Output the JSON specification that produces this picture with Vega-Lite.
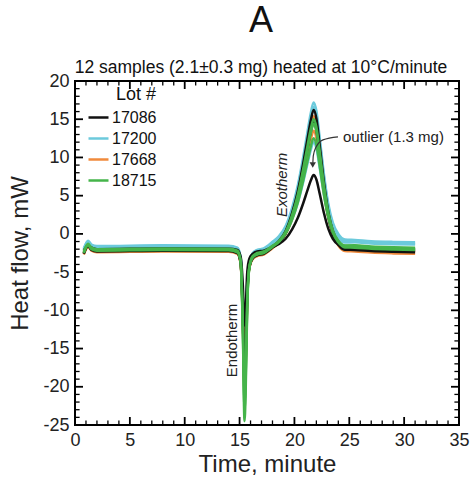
{
"$schema":"https://vega.github.io/schema/vega-lite/v6.json",
"width":384,"height":344,
"autosize":"none",
"padding":{"left":75,"top":81,"right":12,"bottom":52},
"background":"white",
"config":{"view":{"stroke":"black","strokeWidth":2},"font":"Liberation Sans","scale":{"continuousPadding":0}},
"title":{"text":"A","subtitle":"12 samples (2.1±0.3 mg) heated at 10°C/minute","fontSize":36,"fontWeight":"normal","color":"#111","subtitleFontSize":17.5,"subtitleColor":"#111","anchor":"middle","dx":-6,"offset":-5,"subtitlePadding":19},
"datasets":{
"xt":[{"t":5,"k":"major"},{"t":10,"k":"major"},{"t":15,"k":"major"},{"t":20,"k":"major"},{"t":25,"k":"major"},{"t":30,"k":"major"},{"t":1,"k":"minor"},{"t":2,"k":"minor"},{"t":3,"k":"minor"},{"t":4,"k":"minor"},{"t":6,"k":"minor"},{"t":7,"k":"minor"},{"t":8,"k":"minor"},{"t":9,"k":"minor"},{"t":11,"k":"minor"},{"t":12,"k":"minor"},{"t":13,"k":"minor"},{"t":14,"k":"minor"},{"t":16,"k":"minor"},{"t":17,"k":"minor"},{"t":18,"k":"minor"},{"t":19,"k":"minor"},{"t":21,"k":"minor"},{"t":22,"k":"minor"},{"t":23,"k":"minor"},{"t":24,"k":"minor"},{"t":26,"k":"minor"},{"t":27,"k":"minor"},{"t":28,"k":"minor"},{"t":29,"k":"minor"},{"t":31,"k":"minor"},{"t":32,"k":"minor"},{"t":33,"k":"minor"},{"t":34,"k":"minor"}],
"yt":[{"v":-20,"k":"major"},{"v":-15,"k":"major"},{"v":-10,"k":"major"},{"v":-5,"k":"major"},{"v":0,"k":"major"},{"v":5,"k":"major"},{"v":10,"k":"major"},{"v":15,"k":"major"},{"v":-24,"k":"minor"},{"v":-23,"k":"minor"},{"v":-22,"k":"minor"},{"v":-21,"k":"minor"},{"v":-19,"k":"minor"},{"v":-18,"k":"minor"},{"v":-17,"k":"minor"},{"v":-16,"k":"minor"},{"v":-14,"k":"minor"},{"v":-13,"k":"minor"},{"v":-12,"k":"minor"},{"v":-11,"k":"minor"},{"v":-9,"k":"minor"},{"v":-8,"k":"minor"},{"v":-7,"k":"minor"},{"v":-6,"k":"minor"},{"v":-4,"k":"minor"},{"v":-3,"k":"minor"},{"v":-2,"k":"minor"},{"v":-1,"k":"minor"},{"v":1,"k":"minor"},{"v":2,"k":"minor"},{"v":3,"k":"minor"},{"v":4,"k":"minor"},{"v":6,"k":"minor"},{"v":7,"k":"minor"},{"v":8,"k":"minor"},{"v":9,"k":"minor"},{"v":11,"k":"minor"},{"v":12,"k":"minor"},{"v":13,"k":"minor"},{"v":14,"k":"minor"},{"v":16,"k":"minor"},{"v":17,"k":"minor"},{"v":18,"k":"minor"},{"v":19,"k":"minor"}],
"dsc":[
{"lot":"17200","s":4,"t":0.8,"v":-1.9},{"lot":"17200","s":4,"t":1.2,"v":-0.9},{"lot":"17200","s":4,"t":1.5,"v":-1.4},{"lot":"17200","s":4,"t":2,"v":-1.6},{"lot":"17200","s":4,"t":8,"v":-1.5},{"lot":"17200","s":4,"t":14,"v":-1.55},{"lot":"17200","s":4,"t":14.8,"v":-1.8},{"lot":"17200","s":4,"t":15.1,"v":-3.1},{"lot":"17200","s":4,"t":15.3,"v":-9},{"lot":"17200","s":4,"t":15.45,"v":-16},{"lot":"17200","s":4,"t":15.55,"v":-13.6},{"lot":"17200","s":4,"t":15.7,"v":-6.5},{"lot":"17200","s":4,"t":15.9,"v":-3.6},{"lot":"17200","s":4,"t":16.2,"v":-2.5},{"lot":"17200","s":4,"t":16.6,"v":-2.1},{"lot":"17200","s":4,"t":17.2,"v":-1.9},{"lot":"17200","s":4,"t":18,"v":-1.04},{"lot":"17200","s":4,"t":18.6,"v":-0.28},{"lot":"17200","s":4,"t":19.2,"v":1.03},{"lot":"17200","s":4,"t":19.8,"v":3.48},{"lot":"17200","s":4,"t":20.3,"v":6.3},{"lot":"17200","s":4,"t":20.8,"v":10.06},{"lot":"17200","s":4,"t":21.2,"v":13.44},{"lot":"17200","s":4,"t":21.5,"v":15.88},{"lot":"17200","s":4,"t":21.75,"v":17.2},{"lot":"17200","s":4,"t":22,"v":16.1},{"lot":"17200","s":4,"t":22.3,"v":12.63},{"lot":"17200","s":4,"t":22.7,"v":7.68},{"lot":"17200","s":4,"t":23.1,"v":3.84},{"lot":"17200","s":4,"t":23.5,"v":1.46},{"lot":"17200","s":4,"t":24,"v":0},{"lot":"17200","s":4,"t":24.6,"v":-0.73},{"lot":"17200","s":4,"t":25.5,"v":-0.8},{"lot":"17200","s":4,"t":27,"v":-0.95},{"lot":"17200","s":4,"t":29,"v":-1.05},{"lot":"17200","s":4,"t":31,"v":-1.1},
{"lot":"17200","s":5,"t":0.8,"v":-2.0},{"lot":"17200","s":5,"t":1.2,"v":-1.0},{"lot":"17200","s":5,"t":1.5,"v":-1.5},{"lot":"17200","s":5,"t":2,"v":-1.7},{"lot":"17200","s":5,"t":8,"v":-1.6},{"lot":"17200","s":5,"t":14,"v":-1.65},{"lot":"17200","s":5,"t":14.8,"v":-1.9},{"lot":"17200","s":5,"t":15.1,"v":-3.2},{"lot":"17200","s":5,"t":15.3,"v":-8.5},{"lot":"17200","s":5,"t":15.45,"v":-15},{"lot":"17200","s":5,"t":15.55,"v":-12.8},{"lot":"17200","s":5,"t":15.7,"v":-6.2},{"lot":"17200","s":5,"t":15.9,"v":-3.7},{"lot":"17200","s":5,"t":16.2,"v":-2.6},{"lot":"17200","s":5,"t":16.6,"v":-2.2},{"lot":"17200","s":5,"t":17.2,"v":-2.0},{"lot":"17200","s":5,"t":18,"v":-1.15},{"lot":"17200","s":5,"t":18.6,"v":-0.42},{"lot":"17200","s":5,"t":19.2,"v":0.86},{"lot":"17200","s":5,"t":19.8,"v":3.24},{"lot":"17200","s":5,"t":20.3,"v":5.99},{"lot":"17200","s":5,"t":20.8,"v":9.65},{"lot":"17200","s":5,"t":21.2,"v":12.94},{"lot":"17200","s":5,"t":21.5,"v":15.32},{"lot":"17200","s":5,"t":21.75,"v":16.6},{"lot":"17200","s":5,"t":22,"v":15.53},{"lot":"17200","s":5,"t":22.3,"v":12.13},{"lot":"17200","s":5,"t":22.7,"v":7.29},{"lot":"17200","s":5,"t":23.1,"v":3.53},{"lot":"17200","s":5,"t":23.5,"v":1.21},{"lot":"17200","s":5,"t":24,"v":-0.23},{"lot":"17200","s":5,"t":24.6,"v":-0.94},{"lot":"17200","s":5,"t":25.5,"v":-1.0},{"lot":"17200","s":5,"t":27,"v":-1.15},{"lot":"17200","s":5,"t":29,"v":-1.25},{"lot":"17200","s":5,"t":31,"v":-1.3},
{"lot":"17200","s":6,"t":0.8,"v":-2.1},{"lot":"17200","s":6,"t":1.2,"v":-1.1},{"lot":"17200","s":6,"t":1.5,"v":-1.6},{"lot":"17200","s":6,"t":2,"v":-1.8},{"lot":"17200","s":6,"t":8,"v":-1.7},{"lot":"17200","s":6,"t":14,"v":-1.75},{"lot":"17200","s":6,"t":14.8,"v":-2.0},{"lot":"17200","s":6,"t":15.1,"v":-3.3},{"lot":"17200","s":6,"t":15.3,"v":-9.5},{"lot":"17200","s":6,"t":15.45,"v":-17},{"lot":"17200","s":6,"t":15.55,"v":-14.5},{"lot":"17200","s":6,"t":15.7,"v":-7},{"lot":"17200","s":6,"t":15.9,"v":-3.8},{"lot":"17200","s":6,"t":16.2,"v":-2.7},{"lot":"17200","s":6,"t":16.6,"v":-2.3},{"lot":"17200","s":6,"t":17.2,"v":-2.1},{"lot":"17200","s":6,"t":18,"v":-1.39},{"lot":"17200","s":6,"t":18.6,"v":-0.83},{"lot":"17200","s":6,"t":19.2,"v":0.13},{"lot":"17200","s":6,"t":19.8,"v":1.93},{"lot":"17200","s":6,"t":20.3,"v":4.0},{"lot":"17200","s":6,"t":20.8,"v":6.76},{"lot":"17200","s":6,"t":21.2,"v":9.24},{"lot":"17200","s":6,"t":21.5,"v":11.03},{"lot":"17200","s":6,"t":21.75,"v":12.0},{"lot":"17200","s":6,"t":22,"v":11.2},{"lot":"17200","s":6,"t":22.3,"v":8.65},{"lot":"17200","s":6,"t":22.7,"v":5.03},{"lot":"17200","s":6,"t":23.1,"v":2.22},{"lot":"17200","s":6,"t":23.5,"v":0.48},{"lot":"17200","s":6,"t":24,"v":-0.6},{"lot":"17200","s":6,"t":24.6,"v":-1.13},{"lot":"17200","s":6,"t":25.5,"v":-1.1},{"lot":"17200","s":6,"t":27,"v":-1.25},{"lot":"17200","s":6,"t":29,"v":-1.35},{"lot":"17200","s":6,"t":31,"v":-1.4},
{"lot":"17668","s":7,"t":0.8,"v":-2.7},{"lot":"17668","s":7,"t":1.2,"v":-1.7},{"lot":"17668","s":7,"t":1.5,"v":-2.2},{"lot":"17668","s":7,"t":2,"v":-2.4},{"lot":"17668","s":7,"t":8,"v":-2.3},{"lot":"17668","s":7,"t":14,"v":-2.35},{"lot":"17668","s":7,"t":14.8,"v":-2.6},{"lot":"17668","s":7,"t":15.1,"v":-3.9},{"lot":"17668","s":7,"t":15.3,"v":-11.5},{"lot":"17668","s":7,"t":15.45,"v":-21},{"lot":"17668","s":7,"t":15.55,"v":-17.9},{"lot":"17668","s":7,"t":15.7,"v":-8.4},{"lot":"17668","s":7,"t":15.9,"v":-4.4},{"lot":"17668","s":7,"t":16.2,"v":-3.3},{"lot":"17668","s":7,"t":16.6,"v":-2.9},{"lot":"17668","s":7,"t":17.2,"v":-2.7},{"lot":"17668","s":7,"t":18,"v":-1.87},{"lot":"17668","s":7,"t":18.6,"v":-1.15},{"lot":"17668","s":7,"t":19.2,"v":0.09},{"lot":"17668","s":7,"t":19.8,"v":2.41},{"lot":"17668","s":7,"t":20.3,"v":5.08},{"lot":"17668","s":7,"t":20.8,"v":8.64},{"lot":"17668","s":7,"t":21.2,"v":11.84},{"lot":"17668","s":7,"t":21.5,"v":14.15},{"lot":"17668","s":7,"t":21.75,"v":15.4},{"lot":"17668","s":7,"t":22,"v":14.32},{"lot":"17668","s":7,"t":22.3,"v":10.9},{"lot":"17668","s":7,"t":22.7,"v":6.04},{"lot":"17668","s":7,"t":23.1,"v":2.26},{"lot":"17668","s":7,"t":23.5,"v":-0.08},{"lot":"17668","s":7,"t":24,"v":-1.52},{"lot":"17668","s":7,"t":24.6,"v":-2.24},{"lot":"17668","s":7,"t":25.5,"v":-2.3},{"lot":"17668","s":7,"t":27,"v":-2.45},{"lot":"17668","s":7,"t":29,"v":-2.55},{"lot":"17668","s":7,"t":31,"v":-2.6},
{"lot":"17668","s":8,"t":0.8,"v":-2.6},{"lot":"17668","s":8,"t":1.2,"v":-1.6},{"lot":"17668","s":8,"t":1.5,"v":-2.1},{"lot":"17668","s":8,"t":2,"v":-2.3},{"lot":"17668","s":8,"t":8,"v":-2.2},{"lot":"17668","s":8,"t":14,"v":-2.25},{"lot":"17668","s":8,"t":14.8,"v":-2.5},{"lot":"17668","s":8,"t":15.1,"v":-3.8},{"lot":"17668","s":8,"t":15.3,"v":-10},{"lot":"17668","s":8,"t":15.45,"v":-18},{"lot":"17668","s":8,"t":15.55,"v":-15.3},{"lot":"17668","s":8,"t":15.7,"v":-7.2},{"lot":"17668","s":8,"t":15.9,"v":-4.3},{"lot":"17668","s":8,"t":16.2,"v":-3.2},{"lot":"17668","s":8,"t":16.6,"v":-2.8},{"lot":"17668","s":8,"t":17.2,"v":-2.6},{"lot":"17668","s":8,"t":18,"v":-1.79},{"lot":"17668","s":8,"t":18.6,"v":-1.1},{"lot":"17668","s":8,"t":19.2,"v":0.09},{"lot":"17668","s":8,"t":19.8,"v":2.32},{"lot":"17668","s":8,"t":20.3,"v":4.88},{"lot":"17668","s":8,"t":20.8,"v":8.3},{"lot":"17668","s":8,"t":21.2,"v":11.38},{"lot":"17668","s":8,"t":21.5,"v":13.6},{"lot":"17668","s":8,"t":21.75,"v":14.8},{"lot":"17668","s":8,"t":22,"v":13.77},{"lot":"17668","s":8,"t":22.3,"v":10.53},{"lot":"17668","s":8,"t":22.7,"v":5.91},{"lot":"17668","s":8,"t":23.1,"v":2.32},{"lot":"17668","s":8,"t":23.5,"v":0.09},{"lot":"17668","s":8,"t":24,"v":-1.27},{"lot":"17668","s":8,"t":24.6,"v":-1.96},{"lot":"17668","s":8,"t":25.5,"v":-2.0},{"lot":"17668","s":8,"t":27,"v":-2.15},{"lot":"17668","s":8,"t":29,"v":-2.25},{"lot":"17668","s":8,"t":31,"v":-2.3},
{"lot":"17668","s":9,"t":0.8,"v":-2.5},{"lot":"17668","s":9,"t":1.2,"v":-1.5},{"lot":"17668","s":9,"t":1.5,"v":-2.0},{"lot":"17668","s":9,"t":2,"v":-2.2},{"lot":"17668","s":9,"t":8,"v":-2.1},{"lot":"17668","s":9,"t":14,"v":-2.15},{"lot":"17668","s":9,"t":14.8,"v":-2.4},{"lot":"17668","s":9,"t":15.1,"v":-3.7},{"lot":"17668","s":9,"t":15.3,"v":-11},{"lot":"17668","s":9,"t":15.45,"v":-20},{"lot":"17668","s":9,"t":15.55,"v":-17},{"lot":"17668","s":9,"t":15.7,"v":-8},{"lot":"17668","s":9,"t":15.9,"v":-4.2},{"lot":"17668","s":9,"t":16.2,"v":-3.1},{"lot":"17668","s":9,"t":16.6,"v":-2.7},{"lot":"17668","s":9,"t":17.2,"v":-2.5},{"lot":"17668","s":9,"t":18,"v":-1.73},{"lot":"17668","s":9,"t":18.6,"v":-1.1},{"lot":"17668","s":9,"t":19.2,"v":0.0},{"lot":"17668","s":9,"t":19.8,"v":2.04},{"lot":"17668","s":9,"t":20.3,"v":4.39},{"lot":"17668","s":9,"t":20.8,"v":7.53},{"lot":"17668","s":9,"t":21.2,"v":10.36},{"lot":"17668","s":9,"t":21.5,"v":12.4},{"lot":"17668","s":9,"t":21.75,"v":13.5},{"lot":"17668","s":9,"t":22,"v":12.56},{"lot":"17668","s":9,"t":22.3,"v":9.58},{"lot":"17668","s":9,"t":22.7,"v":5.34},{"lot":"17668","s":9,"t":23.1,"v":2.04},{"lot":"17668","s":9,"t":23.5,"v":0.0},{"lot":"17668","s":9,"t":24,"v":-1.26},{"lot":"17668","s":9,"t":24.6,"v":-1.89},{"lot":"17668","s":9,"t":25.5,"v":-1.9},{"lot":"17668","s":9,"t":27,"v":-2.05},{"lot":"17668","s":9,"t":29,"v":-2.15},{"lot":"17668","s":9,"t":31,"v":-2.2},
{"lot":"17086","s":1,"t":0.8,"v":-2.5},{"lot":"17086","s":1,"t":1.2,"v":-1.5},{"lot":"17086","s":1,"t":1.5,"v":-2.0},{"lot":"17086","s":1,"t":2,"v":-2.2},{"lot":"17086","s":1,"t":8,"v":-2.1},{"lot":"17086","s":1,"t":14,"v":-2.15},{"lot":"17086","s":1,"t":14.8,"v":-2.4},{"lot":"17086","s":1,"t":15.1,"v":-3.7},{"lot":"17086","s":1,"t":15.3,"v":-11},{"lot":"17086","s":1,"t":15.45,"v":-20},{"lot":"17086","s":1,"t":15.55,"v":-17},{"lot":"17086","s":1,"t":15.7,"v":-8},{"lot":"17086","s":1,"t":15.9,"v":-4.2},{"lot":"17086","s":1,"t":16.2,"v":-3.1},{"lot":"17086","s":1,"t":16.6,"v":-2.7},{"lot":"17086","s":1,"t":17.2,"v":-2.5},{"lot":"17086","s":1,"t":18,"v":-1.65},{"lot":"17086","s":1,"t":18.6,"v":-0.91},{"lot":"17086","s":1,"t":19.2,"v":0.38},{"lot":"17086","s":1,"t":19.8,"v":2.77},{"lot":"17086","s":1,"t":20.3,"v":5.53},{"lot":"17086","s":1,"t":20.8,"v":9.21},{"lot":"17086","s":1,"t":21.2,"v":12.52},{"lot":"17086","s":1,"t":21.5,"v":14.91},{"lot":"17086","s":1,"t":21.75,"v":16.2},{"lot":"17086","s":1,"t":22,"v":15.1},{"lot":"17086","s":1,"t":22.3,"v":11.6},{"lot":"17086","s":1,"t":22.7,"v":6.63},{"lot":"17086","s":1,"t":23.1,"v":2.77},{"lot":"17086","s":1,"t":23.5,"v":0.38},{"lot":"17086","s":1,"t":24,"v":-1.1},{"lot":"17086","s":1,"t":24.6,"v":-1.83},{"lot":"17086","s":1,"t":25.5,"v":-1.9},{"lot":"17086","s":1,"t":27,"v":-2.05},{"lot":"17086","s":1,"t":29,"v":-2.15},{"lot":"17086","s":1,"t":31,"v":-2.2},
{"lot":"17086","s":2,"t":0.8,"v":-2.6},{"lot":"17086","s":2,"t":1.2,"v":-1.6},{"lot":"17086","s":2,"t":1.5,"v":-2.1},{"lot":"17086","s":2,"t":2,"v":-2.3},{"lot":"17086","s":2,"t":8,"v":-2.2},{"lot":"17086","s":2,"t":14,"v":-2.25},{"lot":"17086","s":2,"t":14.8,"v":-2.5},{"lot":"17086","s":2,"t":15.1,"v":-3.8},{"lot":"17086","s":2,"t":15.3,"v":-10.5},{"lot":"17086","s":2,"t":15.45,"v":-19},{"lot":"17086","s":2,"t":15.55,"v":-16.2},{"lot":"17086","s":2,"t":15.7,"v":-7.6},{"lot":"17086","s":2,"t":15.9,"v":-4.3},{"lot":"17086","s":2,"t":16.2,"v":-3.2},{"lot":"17086","s":2,"t":16.6,"v":-2.8},{"lot":"17086","s":2,"t":17.2,"v":-2.6},{"lot":"17086","s":2,"t":18,"v":-1.79},{"lot":"17086","s":2,"t":18.6,"v":-1.12},{"lot":"17086","s":2,"t":19.2,"v":0.07},{"lot":"17086","s":2,"t":19.8,"v":2.26},{"lot":"17086","s":2,"t":20.3,"v":4.8},{"lot":"17086","s":2,"t":20.8,"v":8.18},{"lot":"17086","s":2,"t":21.2,"v":11.22},{"lot":"17086","s":2,"t":21.5,"v":13.42},{"lot":"17086","s":2,"t":21.75,"v":14.6},{"lot":"17086","s":2,"t":22,"v":13.58},{"lot":"17086","s":2,"t":22.3,"v":10.35},{"lot":"17086","s":2,"t":22.7,"v":5.76},{"lot":"17086","s":2,"t":23.1,"v":2.19},{"lot":"17086","s":2,"t":23.5,"v":-0.02},{"lot":"17086","s":2,"t":24,"v":-1.38},{"lot":"17086","s":2,"t":24.6,"v":-2.06},{"lot":"17086","s":2,"t":25.5,"v":-2.1},{"lot":"17086","s":2,"t":27,"v":-2.25},{"lot":"17086","s":2,"t":29,"v":-2.35},{"lot":"17086","s":2,"t":31,"v":-2.4},
{"lot":"17086","s":3,"t":0.8,"v":-2.2},{"lot":"17086","s":3,"t":1.2,"v":-1.5},{"lot":"17086","s":3,"t":1.5,"v":-1.8},{"lot":"17086","s":3,"t":2,"v":-2.0},{"lot":"17086","s":3,"t":8,"v":-1.9},{"lot":"17086","s":3,"t":14,"v":-1.95},{"lot":"17086","s":3,"t":14.8,"v":-2.1},{"lot":"17086","s":3,"t":15.1,"v":-3.0},{"lot":"17086","s":3,"t":15.3,"v":-6.8},{"lot":"17086","s":3,"t":15.45,"v":-12},{"lot":"17086","s":3,"t":15.55,"v":-10.2},{"lot":"17086","s":3,"t":15.7,"v":-5.0},{"lot":"17086","s":3,"t":15.9,"v":-3.2},{"lot":"17086","s":3,"t":16.2,"v":-2.6},{"lot":"17086","s":3,"t":16.6,"v":-2.3},{"lot":"17086","s":3,"t":17.2,"v":-2.2},{"lot":"17086","s":3,"t":18,"v":-1.71},{"lot":"17086","s":3,"t":18.6,"v":-1.32},{"lot":"17086","s":3,"t":19.2,"v":-0.64},{"lot":"17086","s":3,"t":19.8,"v":0.62},{"lot":"17086","s":3,"t":20.3,"v":2.07},{"lot":"17086","s":3,"t":20.8,"v":4.01},{"lot":"17086","s":3,"t":21.2,"v":5.76},{"lot":"17086","s":3,"t":21.5,"v":7.02},{"lot":"17086","s":3,"t":21.75,"v":7.7},{"lot":"17086","s":3,"t":22,"v":7.12},{"lot":"17086","s":3,"t":22.3,"v":5.28},{"lot":"17086","s":3,"t":22.7,"v":2.66},{"lot":"17086","s":3,"t":23.1,"v":0.62},{"lot":"17086","s":3,"t":23.5,"v":-0.64},{"lot":"17086","s":3,"t":24,"v":-1.42},{"lot":"17086","s":3,"t":24.6,"v":-1.81},{"lot":"17086","s":3,"t":25.5,"v":-1.85},{"lot":"17086","s":3,"t":27,"v":-1.9},{"lot":"17086","s":3,"t":29,"v":-1.95},{"lot":"17086","s":3,"t":31,"v":-2.0},
{"lot":"18715","s":10,"t":0.8,"v":-2.4},{"lot":"18715","s":10,"t":1.2,"v":-1.4},{"lot":"18715","s":10,"t":1.5,"v":-1.9},{"lot":"18715","s":10,"t":2,"v":-2.1},{"lot":"18715","s":10,"t":8,"v":-2.0},{"lot":"18715","s":10,"t":14,"v":-2.05},{"lot":"18715","s":10,"t":14.8,"v":-2.3},{"lot":"18715","s":10,"t":15.1,"v":-3.6},{"lot":"18715","s":10,"t":15.3,"v":-13},{"lot":"18715","s":10,"t":15.45,"v":-24.5},{"lot":"18715","s":10,"t":15.55,"v":-21},{"lot":"18715","s":10,"t":15.7,"v":-9.5},{"lot":"18715","s":10,"t":15.9,"v":-4.3},{"lot":"18715","s":10,"t":16.2,"v":-3.0},{"lot":"18715","s":10,"t":16.6,"v":-2.6},{"lot":"18715","s":10,"t":17.2,"v":-2.4},{"lot":"18715","s":10,"t":18,"v":-1.59},{"lot":"18715","s":10,"t":18.6,"v":-0.9},{"lot":"18715","s":10,"t":19.2,"v":0.29},{"lot":"18715","s":10,"t":19.8,"v":2.52},{"lot":"18715","s":10,"t":20.3,"v":5.08},{"lot":"18715","s":10,"t":20.8,"v":8.5},{"lot":"18715","s":10,"t":21.2,"v":11.58},{"lot":"18715","s":10,"t":21.5,"v":13.8},{"lot":"18715","s":10,"t":21.75,"v":15.0},{"lot":"18715","s":10,"t":22,"v":13.99},{"lot":"18715","s":10,"t":22.3,"v":10.78},{"lot":"18715","s":10,"t":22.7,"v":6.21},{"lot":"18715","s":10,"t":23.1,"v":2.66},{"lot":"18715","s":10,"t":23.5,"v":0.47},{"lot":"18715","s":10,"t":24,"v":-0.89},{"lot":"18715","s":10,"t":24.6,"v":-1.56},{"lot":"18715","s":10,"t":25.5,"v":-1.6},{"lot":"18715","s":10,"t":27,"v":-1.75},{"lot":"18715","s":10,"t":29,"v":-1.85},{"lot":"18715","s":10,"t":31,"v":-1.9},
{"lot":"18715","s":11,"t":0.8,"v":-2.5},{"lot":"18715","s":11,"t":1.2,"v":-1.5},{"lot":"18715","s":11,"t":1.5,"v":-2.0},{"lot":"18715","s":11,"t":2,"v":-2.2},{"lot":"18715","s":11,"t":8,"v":-2.1},{"lot":"18715","s":11,"t":14,"v":-2.15},{"lot":"18715","s":11,"t":14.8,"v":-2.4},{"lot":"18715","s":11,"t":15.1,"v":-3.7},{"lot":"18715","s":11,"t":15.3,"v":-12},{"lot":"18715","s":11,"t":15.45,"v":-22},{"lot":"18715","s":11,"t":15.55,"v":-18.7},{"lot":"18715","s":11,"t":15.7,"v":-8.8},{"lot":"18715","s":11,"t":15.9,"v":-4.4},{"lot":"18715","s":11,"t":16.2,"v":-3.1},{"lot":"18715","s":11,"t":16.6,"v":-2.7},{"lot":"18715","s":11,"t":17.2,"v":-2.5},{"lot":"18715","s":11,"t":18,"v":-1.7},{"lot":"18715","s":11,"t":18.6,"v":-1.04},{"lot":"18715","s":11,"t":19.2,"v":0.12},{"lot":"18715","s":11,"t":19.8,"v":2.28},{"lot":"18715","s":11,"t":20.3,"v":4.77},{"lot":"18715","s":11,"t":20.8,"v":8.09},{"lot":"18715","s":11,"t":21.2,"v":11.08},{"lot":"18715","s":11,"t":21.5,"v":13.24},{"lot":"18715","s":11,"t":21.75,"v":14.4},{"lot":"18715","s":11,"t":22,"v":13.41},{"lot":"18715","s":11,"t":22.3,"v":10.28},{"lot":"18715","s":11,"t":22.7,"v":5.82},{"lot":"18715","s":11,"t":23.1,"v":2.36},{"lot":"18715","s":11,"t":23.5,"v":0.21},{"lot":"18715","s":11,"t":24,"v":-1.11},{"lot":"18715","s":11,"t":24.6,"v":-1.77},{"lot":"18715","s":11,"t":25.5,"v":-1.8},{"lot":"18715","s":11,"t":27,"v":-1.95},{"lot":"18715","s":11,"t":29,"v":-2.05},{"lot":"18715","s":11,"t":31,"v":-2.1},
{"lot":"18715","s":12,"t":0.8,"v":-2.3},{"lot":"18715","s":12,"t":1.2,"v":-1.3},{"lot":"18715","s":12,"t":1.5,"v":-1.8},{"lot":"18715","s":12,"t":2,"v":-2.0},{"lot":"18715","s":12,"t":8,"v":-1.9},{"lot":"18715","s":12,"t":14,"v":-1.95},{"lot":"18715","s":12,"t":14.8,"v":-2.2},{"lot":"18715","s":12,"t":15.1,"v":-3.5},{"lot":"18715","s":12,"t":15.3,"v":-12.5},{"lot":"18715","s":12,"t":15.45,"v":-23},{"lot":"18715","s":12,"t":15.55,"v":-19.6},{"lot":"18715","s":12,"t":15.7,"v":-9},{"lot":"18715","s":12,"t":15.9,"v":-4.2},{"lot":"18715","s":12,"t":16.2,"v":-2.9},{"lot":"18715","s":12,"t":16.6,"v":-2.5},{"lot":"18715","s":12,"t":17.2,"v":-2.3},{"lot":"18715","s":12,"t":18,"v":-1.56},{"lot":"18715","s":12,"t":18.6,"v":-0.98},{"lot":"18715","s":12,"t":19.2,"v":0.03},{"lot":"18715","s":12,"t":19.8,"v":1.92},{"lot":"18715","s":12,"t":20.3,"v":4.09},{"lot":"18715","s":12,"t":20.8,"v":6.99},{"lot":"18715","s":12,"t":21.2,"v":9.6},{"lot":"18715","s":12,"t":21.5,"v":11.49},{"lot":"18715","s":12,"t":21.75,"v":12.5},{"lot":"18715","s":12,"t":22,"v":11.64},{"lot":"18715","s":12,"t":22.3,"v":8.93},{"lot":"18715","s":12,"t":22.7,"v":5.06},{"lot":"18715","s":12,"t":23.1,"v":2.06},{"lot":"18715","s":12,"t":23.5,"v":0.2},{"lot":"18715","s":12,"t":24,"v":-0.94},{"lot":"18715","s":12,"t":24.6,"v":-1.51},{"lot":"18715","s":12,"t":25.5,"v":-1.5},{"lot":"18715","s":12,"t":27,"v":-1.65},{"lot":"18715","s":12,"t":29,"v":-1.75},{"lot":"18715","s":12,"t":31,"v":-1.8}
]},
"layer":[
{"data":{"name":"dsc"},
 "mark":{"type":"line","strokeWidth":2.5,"interpolate":"monotone","clip":true},
 "encoding":{
  "x":{"field":"t","type":"quantitative","scale":{"domain":[0,35],"nice":false,"zero":false,"padding":0},
   "axis":{"orient":"bottom","values":[0,5,10,15,20,25,30,35],"ticks":false,"labelPadding":6,"labelFontSize":18,"labelColor":"#222","labelFlush":false,"labelOverlap":false,"domain":false,"grid":false,"title":"Time, minute","titleFontSize":24,"titleFontWeight":"normal","titleColor":"#222","titlePadding":3}},
  "y":{"field":"v","type":"quantitative","scale":{"domain":[-25,20],"nice":false,"zero":false,"padding":0},
   "axis":{"orient":"left","values":[-25,-20,-15,-10,-5,0,5,10,15,20],"labelExpr":"'' + datum.value","ticks":false,"labelPadding":6,"labelFontSize":18,"labelColor":"#222","labelFlush":false,"labelOverlap":false,"domain":false,"grid":false,"title":"Heat flow, mW","titleFontSize":24,"titleFontWeight":"normal","titleColor":"#222","titlePadding":10}},
  "color":{"field":"lot","type":"nominal","scale":{"domain":["17086","17200","17668","18715"],"range":["#111111","#6ccadc","#f08a3c","#45b44a"]},
   "legend":{"title":"Lot #","orient":"none","legendX":12,"legendY":5,"titleFontSize":18,"titleFontWeight":"normal","titleColor":"#111","titleAnchor":"end","labelFontSize":16,"labelColor":"#111","symbolType":"stroke","symbolSize":400,"symbolStrokeWidth":2.5,"rowPadding":1,"titlePadding":2,"labelOffset":2,"padding":0}},
  "detail":{"field":"s"}}},
{"data":{"name":"xt"},"transform":[{"filter":{"field":"k","equal":"major"}}],
 "mark":{"type":"bar","orient":"vertical","width":1.8,"color":"#000000"},
 "encoding":{"x":{"field":"t","type":"quantitative","axis":null},"y":{"datum":-25,"type":"quantitative","axis":null},"y2":{"datum":-23.95}}},
{"data":{"name":"xt"},"transform":[{"filter":{"field":"k","equal":"minor"}}],
 "mark":{"type":"bar","orient":"vertical","width":1.3,"color":"#000000"},
 "encoding":{"x":{"field":"t","type":"quantitative","axis":null},"y":{"datum":-25,"type":"quantitative","axis":null},"y2":{"datum":-24.4}}},
{"data":{"name":"xt"},"transform":[{"filter":{"field":"k","equal":"major"}}],
 "mark":{"type":"bar","orient":"vertical","width":1.8,"color":"#000000"},
 "encoding":{"x":{"field":"t","type":"quantitative","axis":null},"y":{"datum":20,"type":"quantitative","axis":null},"y2":{"datum":18.95}}},
{"data":{"name":"xt"},"transform":[{"filter":{"field":"k","equal":"minor"}}],
 "mark":{"type":"bar","orient":"vertical","width":1.3,"color":"#000000"},
 "encoding":{"x":{"field":"t","type":"quantitative","axis":null},"y":{"datum":20,"type":"quantitative","axis":null},"y2":{"datum":19.4}}},
{"data":{"name":"yt"},"transform":[{"filter":{"field":"k","equal":"major"}}],
 "mark":{"type":"bar","orient":"horizontal","height":1.8,"color":"#000000"},
 "encoding":{"y":{"field":"v","type":"quantitative","axis":null},"x":{"datum":0,"type":"quantitative","axis":null},"x2":{"datum":0.73}}},
{"data":{"name":"yt"},"transform":[{"filter":{"field":"k","equal":"minor"}}],
 "mark":{"type":"bar","orient":"horizontal","height":1.3,"color":"#000000"},
 "encoding":{"y":{"field":"v","type":"quantitative","axis":null},"x":{"datum":0,"type":"quantitative","axis":null},"x2":{"datum":0.42}}},
{"data":{"name":"yt"},"transform":[{"filter":{"field":"k","equal":"major"}}],
 "mark":{"type":"bar","orient":"horizontal","height":1.8,"color":"#000000"},
 "encoding":{"y":{"field":"v","type":"quantitative","axis":null},"x":{"datum":35,"type":"quantitative","axis":null},"x2":{"datum":34.27}}},
{"data":{"name":"yt"},"transform":[{"filter":{"field":"k","equal":"minor"}}],
 "mark":{"type":"bar","orient":"horizontal","height":1.3,"color":"#000000"},
 "encoding":{"y":{"field":"v","type":"quantitative","axis":null},"x":{"datum":35,"type":"quantitative","axis":null},"x2":{"datum":34.58}}},
{"data":{"values":[{"t":21.68,"v":9.3},{"t":21.72,"v":10.2},{"t":21.95,"v":11.3},{"t":22.6,"v":12.3},{"t":23.97,"v":12.7}]},
 "mark":{"type":"line","stroke":"#333","strokeWidth":1.2,"interpolate":"monotone"},
 "encoding":{
  "x":{"field":"t","type":"quantitative","axis":null},
  "y":{"field":"v","type":"quantitative","axis":null}}},
{"data":{"values":[{"t":21.67,"v":9.0}]},
 "mark":{"type":"point","shape":"triangle-down","filled":true,"size":40,"color":"#333","opacity":1},
 "encoding":{
  "x":{"field":"t","type":"quantitative","axis":null},
  "y":{"field":"v","type":"quantitative","axis":null}}},
{"data":{"values":[{"t":24.43,"v":12.67,"label":"outlier (1.3 mg)"}]},
 "mark":{"type":"text","align":"left","baseline":"middle","fontSize":15,"color":"#222"},
 "encoding":{
  "text":{"field":"label"},
  "x":{"field":"t","type":"quantitative","axis":null},
  "y":{"field":"v","type":"quantitative","axis":null}}},
{"data":{"values":[{"t":18.84,"v":6.4,"label":"Exotherm"}]},
 "mark":{"type":"text","align":"center","baseline":"middle","fontSize":15,"fontStyle":"italic","angle":270,"color":"#222"},
 "encoding":{
  "text":{"field":"label"},
  "x":{"field":"t","type":"quantitative","axis":null},
  "y":{"field":"v","type":"quantitative","axis":null}}},
{"data":{"values":[{"t":14.28,"v":-13.95,"label":"Endotherm"}]},
 "mark":{"type":"text","align":"center","baseline":"middle","fontSize":15,"angle":270,"color":"#222"},
 "encoding":{
  "text":{"field":"label"},
  "x":{"field":"t","type":"quantitative","axis":null},
  "y":{"field":"v","type":"quantitative","axis":null}}}
],
"resolve":{"axis":{"x":"independent","y":"independent"}}
}
